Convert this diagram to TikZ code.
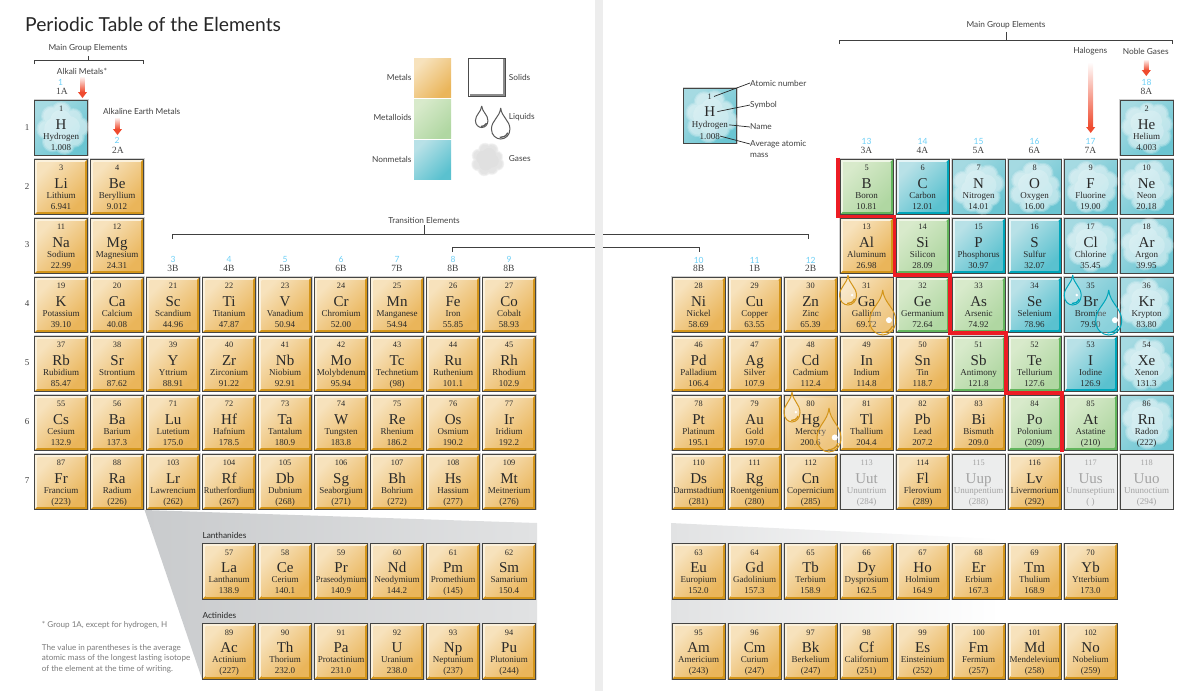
\documentclass[tikz,border=0pt]{standalone}
\usepackage{graphicx}
\usepackage{fontspec}
\setmainfont{Liberation Serif}
\newfontfamily\gillfont{Lato}
\usetikzlibrary{positioning}

\definecolor{metalA}{HTML}{F7E2BC}
\definecolor{metalB}{HTML}{EAB55A}
\definecolor{metalC}{HTML}{D3951A}
\definecolor{metalD}{HTML}{FBF1DC}
\definecolor{mloidA}{HTML}{D8EACB}
\definecolor{mloidB}{HTML}{B0D7A2}
\definecolor{mloidC}{HTML}{62B55C}
\definecolor{mloidD}{HTML}{EEF6E6}
\definecolor{nonmA}{HTML}{B8E1E7}
\definecolor{nonmB}{HTML}{5AC1CF}
\definecolor{nonmC}{HTML}{00A6BA}
\definecolor{nonmD}{HTML}{E4F4F6}
\definecolor{gasA}{HTML}{A5DAE2}
\definecolor{gasB}{HTML}{6AC5D2}
\definecolor{unkF}{HTML}{ECEDED}
\definecolor{edgeK}{HTML}{454543}
\definecolor{groupC}{HTML}{6DCFF6}
\definecolor{redL}{HTML}{ED1C24}
\definecolor{arrowR}{HTML}{EF4B2F}
\definecolor{txtK}{HTML}{404040}
\definecolor{noteK}{HTML}{7A7A7A}
\definecolor{spineG}{HTML}{EDEDED}
\definecolor{panelA}{HTML}{C9CBCD}
\definecolor{panelB}{HTML}{E1E2E3}

% one squeezed name line
\newsavebox{\namebox}
\newcommand{\fitname}[1]{\sbox{\namebox}{#1}\ifdim\wd\namebox>50.5pt\resizebox{50.5pt}{\height}{#1}\else#1\fi}

% cell faces
\newcommand{\bevelcell}[1]{%
  \fill[black!18] (-0.9,-0.9) rectangle (54.2,56.4);
  \fill[#1D] (0,0) rectangle (53.3,55.6);
  \fill[#1C] (53.3,0) -- (53.3,55.6) -- (0,55.6) -- (3,52.6) -- (50.3,52.6) -- (50.3,3) -- cycle;
  \shade[top color=#1A,bottom color=#1B,shading angle=45] (3,3) rectangle (50.3,52.6);
  \draw[edgeK,line width=.95] (0,0) rectangle (53.3,55.6);
}
\newcommand{\flatcell}[1]{%
  \fill[black!18] (-0.9,-0.9) rectangle (54.2,56.4);
  \shade[top color=#1A,bottom color=#1B,shading angle=45] (0,0) rectangle (53.3,55.6);
  \draw[edgeK,line width=.95] (0,0) rectangle (53.3,55.6);
}
\newcommand{\lobes}[1]{(0,0) circle[radius=14pt*#1] (-10,-9) circle[radius=9pt*#1] (2,-14) circle[radius=9pt*#1]
      (11,-10) circle[radius=9pt*#1] (15,2) circle[radius=8pt*#1] (12,12) circle[radius=9pt*#1]
      (2,15) circle[radius=9pt*#1] (-9,13) circle[radius=9pt*#1] (-15,3) circle[radius=9pt*#1]}
\newcommand{\puff}[5]{% x, y, turn, size, colour
  \begin{scope}[shift={(#1,#2)},rotate=#3,scale=#4]
    \fill[#5,opacity=.2] \lobes{1.12};
    \fill[#5,opacity=.25] \lobes{1};
    \fill[#5,opacity=.2] \lobes{.85};
    \fill[#5,opacity=.2] (-4,-3) circle[radius=11pt] (5,-5) circle[radius=10pt] (6,5) circle[radius=10pt] (-4,6) circle[radius=10pt];
  \end{scope}
}
\newcommand{\cellM}{\bevelcell{metal}}
\newcommand{\cellD}{\bevelcell{mloid}}
\newcommand{\cellN}{\bevelcell{nonm}}
\newcommand{\cellG}{\flatcell{gas}\puff{26.6}{27.8}{\turn}{1.06}{white}}
\newcommand{\cellL}{\flatcell{metal}}
\newcommand{\cellB}{\flatcell{gas}}
\newcommand{\cellU}{\fill[black!18] (-0.9,-0.9) rectangle (54.2,56.4);
  \fill[unkF] (0,0) rectangle (53.3,55.6);
  \draw[edgeK,line width=.95] (0,0) rectangle (53.3,55.6);
  \colorlet{elink}{black!36}}

% x, y, kind, number, symbol, name, mass
\newcommand{\elemcell}[7]{%
  \begin{scope}[shift={(#1,#2)}]
    \colorlet{elink}{black!84}
    \pgfmathsetmacro{\turn}{#4*47}
    \csname cell#3\endcsname
    \node[elnum] (#5-num) at (26.6,11.6) {#4};
    \node[elsym] (#5-sym) at (26.6,29) {#5};
    \node[elname] (#5-name) at (26.6,39) {\fitname{#6}};
    \node[elmass] (#5-mass) at (26.6,50) {#7};
  \end{scope}
}
% left edge, top edge, cells
\newcommand{\cellrow}[3]{%
  \foreach \kind/\num/\sym/\ename/\mass [count=\c from 0] in {#3} {
    \pgfmathsetmacro{\cx}{#1+56*\c}
    \elemcell{\cx}{#2}{\kind}{\num}{\sym}{\ename}{\mass}
  }
}
% x of tip, y of tip, width, height, colour, spot radius
\newcommand{\droplet}[6]{%
  \begin{scope}[shift={(#1,#2)},x=#3pt,y=-#4pt]
    \path[fill=white,fill opacity=.22,draw=#5,line width=1] (0,0) .. controls (0.05,0.3) and (0.5,0.4) .. (0.5,0.68)
      .. controls (0.5,0.88) and (0.25,1) .. (0,1) .. controls (-0.25,1) and (-0.5,0.88) .. (-0.5,0.68)
      .. controls (-0.5,0.4) and (-0.05,0.3) .. (0,0);
    \draw[#5,line width=1.3] (0.38,0.8) .. controls (0.28,0.92) and (0.12,0.95) .. (-0.05,0.95);
    \fill[white] (0.24,0.67) circle[radius=#6pt];
  \end{scope}
}
% x, top, tip
\newcommand{\redarrow}[3]{%
  \shade[top color=white,bottom color=arrowR] (#1-2.4,#2) rectangle (#1+2.4,#3-6);
  \fill[arrowR] (#1-4.6,#3-6) -- (#1+4.6,#3-6) -- (#1,#3) -- cycle;
}

\begin{document}
\begin{tikzpicture}[
    x=1pt, y=-1pt,
    elnum/.style={inner sep=0, anchor=base, text=elink, font=\fontsize{8.3}{8.3}\selectfont},
    elsym/.style={inner sep=0, anchor=base, text=elink, font=\fontsize{15}{15}\selectfont},
    elname/.style={inner sep=0, anchor=base, text=elink, font=\fontsize{9}{9}\selectfont},
    elmass/.style={inner sep=0, anchor=base, text=elink, font=\fontsize{9}{9}\selectfont},
    sanslbl/.style={inner sep=0, text=txtK, font=\gillfont\fontsize{8.3}{8.3}\selectfont},
    notelbl/.style={inner sep=0, anchor=west, text=noteK, font=\gillfont\fontsize{8.1}{8.1}\selectfont},
    grpnum/.style={inner sep=0, text=groupC, font=\gillfont\fontsize{8.5}{8.5}\selectfont},
    grpfam/.style={inner sep=0, text=txtK, font=\fontsize{9.5}{9.5}\selectfont},
    period/.style={inner sep=0, text=txtK, font=\fontsize{9}{9}\selectfont},
    bracket/.style={draw=txtK, line width=.9},
    keyline/.style={draw=black!85, line width=.7},
    swatch/.style={top color=#1A, bottom color=#1B, shading angle=45}
  ]
    \useasboundingbox (0,0) rectangle (1189,691);

    % Title
    \node[anchor=west, inner sep=0, text=black!85, font=\gillfont\fontsize{19.3}{20}\selectfont] (title) at (25,24) {Periodic Table of the Elements};

    % Panels behind the lower rows
    \shade[left color=panelA, right color=panelB] (144.5,510) -- (537,523) -- (537,679) -- (202,679) -- cycle;
    \shade[left color=panelB, right color=white] (671,523) -- (1000,539) -- (1000,679) -- (671,679) -- cycle;

    % Brackets
    \node[sanslbl] (mainleft) at (88,48) {Main Group Elements};
    \coordinate (mlA) at (34,64);
    \coordinate (mlB) at (143.7,64);
    \coordinate (mlBar) at (88,60);
    \draw[bracket] (mlA) -- ++(0,-4) -| (mlB);
    \draw[bracket, shorten <=4pt] (mainleft.south) -- (mlBar);

    \node[sanslbl] (mainright) at (1006,25) {Main Group Elements};
    \coordinate (mrA) at (839.5,44);
    \coordinate (mrB) at (1172.7,44);
    \coordinate (mrBar) at (1006,40);
    \draw[bracket] (mrA) -- ++(0,-4) -| (mrB);
    \draw[bracket, shorten <=3pt] (mainright.south) -- (mrBar);

    \node[sanslbl] (transition) at (424,220) {Transition Elements};
    \coordinate (trA) at (172,239);
    \coordinate (trB) at (808.7,239);
    \coordinate (trBar) at (424,234.7);
    \draw[bracket] (trA) -- ++(0,-4.3) -| (trB);
    \draw[bracket, shorten <=2pt] (transition.south) -- (trBar);

    \coordinate (etA) at (452,252);
    \coordinate (etB) at (699.3,252);
    \draw[bracket] (etA) -- ++(0,-4.3) -| (etB);

    % Page fold
    \fill[spineG] (595.3,0) rectangle (602.7,691);

    % Group numbers and families
    \foreach \x/\y/\g in {60.5/82/1, 117/140/2, 173/259/3, 229/259/4, 285/259/5, 341/259/6,
      397/259/7, 453/259/8, 509/259/9, 698.7/260/10, 754.7/260/11, 810.7/260/12, 866.5/141/13, 922.5/141/14,
      978.5/141/15, 1034.5/141/16, 1090.5/141/17, 1146.5/82/18} {
      \node[grpnum] (grp\g) at (\x,\y) {\g};
    }
    \foreach \x/\y/\g/\fam in {62/91/1/1A, 118/150/2/2A, 173/268.5/3/3B, 229/268.5/4/4B, 285/268.5/5/5B, 341/268.5/6/6B,
      397/268.5/7/7B, 453/268.5/8/8B, 509/268.5/9/8B, 698.7/268.5/10/8B, 754.7/268.5/11/1B, 810.7/268.5/12/2B,
      866.5/150/13/3A, 922.5/150/14/4A, 978.5/150/15/5A, 1034.5/150/16/6A, 1090.5/150/17/7A, 1146.5/91/18/8A} {
      \node[grpfam] (fam\g) at (\x,\y) {\fam};
    }

    % Period numbers
    \foreach \y [count=\p] in {128,187,245,304,363,422,481} {
      \node[period] (per\p) at (27,\y) {\p};
    }

    % Family labels and arrows
    \node[sanslbl] (alkali) at (82,71) {Alkali Metals*};
    \redarrow{82.5}{76}{98}
    \node[sanslbl] (earth) at (141.7,111) {Alkaline Earth Metals};
    \redarrow{117.5}{117}{135}
    \node[sanslbl] (halogens) at (1090.3,51) {Halogens};
    \redarrow{1090.7}{62}{133}
    \node[sanslbl] (noble) at (1145.7,51) {Noble Gases};
    \redarrow{1146.3}{59}{76}

    % Legend
    \shade[swatch=metal] (414,58) rectangle (451,97);
    \shade[swatch=mloid] (414,99) rectangle (451,138);
    \shade[swatch=nonm] (414,140) rectangle (451,179);
    \node[sanslbl, anchor=east] (lmetals) at (411.7,77) {Metals};
    \node[sanslbl, anchor=east] (lmetalloids) at (411.7,117) {Metalloids};
    \node[sanslbl, anchor=east] (lnonmetals) at (411.7,159) {Nonmetals};
    \draw[black!70, line width=1.1] (468.6,58.4) rectangle (505.4,96.4);
    \draw[black!45, line width=1.2] (504,59) -- (504,95) -- (469.5,95);
    \droplet{481.7}{106}{12.5}{21.5}{black!65}{0}
    \droplet{500.7}{108}{18.5}{31}{black!65}{0}
    \puff{487}{159}{20}{.68}{black!20}
    \node[sanslbl, anchor=west] (lsolids) at (508.7,77) {Solids};
    \node[sanslbl, anchor=west] (lliquids) at (508.7,117) {Liquids};
    \node[sanslbl, anchor=west] (lgases) at (508.7,159) {Gases};

    % Period 1 to 3
    \cellrow{34.5}{100}{G/1/H/Hydrogen/1.008}
    \cellrow{1120}{100}{G/2/He/Helium/4.003}
    \cellrow{34.5}{159}{M/3/Li/Lithium/6.941, M/4/Be/Beryllium/9.012}
    \cellrow{840}{159}{D/5/B/Boron/10.81, N/6/C/Carbon/12.01, G/7/N/Nitrogen/14.01, G/8/O/Oxygen/16.00, G/9/F/Fluorine/19.00, G/10/Ne/Neon/20.18}
    \cellrow{34.5}{218}{M/11/Na/Sodium/22.99, M/12/Mg/Magnesium/24.31}
    \cellrow{840}{218}{M/13/Al/Aluminum/26.98, D/14/Si/Silicon/28.09, N/15/P/Phosphorus/30.97, N/16/S/Sulfur/32.07, G/17/Cl/Chlorine/35.45, G/18/Ar/Argon/39.95}

    % Period 4 to 7
    \cellrow{34.5}{277}{M/19/K/Potassium/39.10, M/20/Ca/Calcium/40.08, M/21/Sc/Scandium/44.96, M/22/Ti/Titanium/47.87, M/23/V/Vanadium/50.94, M/24/Cr/Chromium/52.00, M/25/Mn/Manganese/54.94, M/26/Fe/Iron/55.85, M/27/Co/Cobalt/58.93}
    \cellrow{672}{277}{M/28/Ni/Nickel/58.69, M/29/Cu/Copper/63.55, M/30/Zn/Zinc/65.39, L/31/Ga/Gallium/69.72, D/32/Ge/Germanium/72.64, D/33/As/Arsenic/74.92, N/34/Se/Selenium/78.96, B/35/Br/Bromine/79.90, G/36/Kr/Krypton/83.80}
    \cellrow{34.5}{336}{M/37/Rb/Rubidium/85.47, M/38/Sr/Strontium/87.62, M/39/Y/Yttrium/88.91, M/40/Zr/Zirconium/91.22, M/41/Nb/Niobium/92.91, M/42/Mo/Molybdenum/95.94, M/43/Tc/Technetium/(98), M/44/Ru/Ruthenium/101.1, M/45/Rh/Rhodium/102.9}
    \cellrow{672}{336}{M/46/Pd/Palladium/106.4, M/47/Ag/Silver/107.9, M/48/Cd/Cadmium/112.4, M/49/In/Indium/114.8, M/50/Sn/Tin/118.7, D/51/Sb/Antimony/121.8, D/52/Te/Tellurium/127.6, N/53/I/Iodine/126.9, G/54/Xe/Xenon/131.3}
    \cellrow{34.5}{395}{M/55/Cs/Cesium/132.9, M/56/Ba/Barium/137.3, M/71/Lu/Lutetium/175.0, M/72/Hf/Hafnium/178.5, M/73/Ta/Tantalum/180.9, M/74/W/Tungsten/183.8, M/75/Re/Rhenium/186.2, M/76/Os/Osmium/190.2, M/77/Ir/Iridium/192.2}
    \cellrow{672}{395}{M/78/Pt/Platinum/195.1, M/79/Au/Gold/197.0, L/80/Hg/Mercury/200.6, M/81/Tl/Thallium/204.4, M/82/Pb/Lead/207.2, M/83/Bi/Bismuth/209.0, D/84/Po/Polonium/(209), D/85/At/Astatine/(210), G/86/Rn/Radon/(222)}
    \cellrow{34.5}{454}{M/87/Fr/Francium/(223), M/88/Ra/Radium/(226), M/103/Lr/Lawrencium/(262), M/104/Rf/Rutherfordium/(267), M/105/Db/Dubnium/(268), M/106/Sg/Seaborgium/(271), M/107/Bh/Bohrium/(272), M/108/Hs/Hassium/(277), M/109/Mt/Meitnerium/(276)}
    \cellrow{672}{454}{M/110/Ds/Darmstadtium/(281), M/111/Rg/Roentgenium/(280), M/112/Cn/Copernicium/(285), U/113/Uut/Ununtrium/(284), M/114/Fl/Flerovium/(289), U/115/Uup/Ununpentium/(288), M/116/Lv/Livermorium/(292), U/117/Uus/Ununseptium/( ), U/118/Uuo/Ununoctium/(294)}

    % Lanthanides and actinides
    \node[sanslbl, anchor=west, text=black!85] (lanth) at (202.3,535) {Lanthanides};
    \node[sanslbl, anchor=west, text=black!85] (actin) at (202.3,615) {Actinides};
    \cellrow{202.5}{543.5}{M/57/La/Lanthanum/138.9, M/58/Ce/Cerium/140.1, M/59/Pr/Praseodymium/140.9, M/60/Nd/Neodymium/144.2, M/61/Pm/Promethium/(145), M/62/Sm/Samarium/150.4}
    \cellrow{672}{543.5}{M/63/Eu/Europium/152.0, M/64/Gd/Gadolinium/157.3, M/65/Tb/Terbium/158.9, M/66/Dy/Dysprosium/162.5, M/67/Ho/Holmium/164.9, M/68/Er/Erbium/167.3, M/69/Tm/Thulium/168.9, M/70/Yb/Ytterbium/173.0}
    \cellrow{202.5}{623.5}{M/89/Ac/Actinium/(227), M/90/Th/Thorium/232.0, M/91/Pa/Protactinium/231.0, M/92/U/Uranium/238.0, M/93/Np/Neptunium/(237), M/94/Pu/Plutonium/(244)}
    \cellrow{672}{623.5}{M/95/Am/Americium/(243), M/96/Cm/Curium/(247), M/97/Bk/Berkelium/(247), M/98/Cf/Californium/(251), M/99/Es/Einsteinium/(252), M/100/Fm/Fermium/(257), M/101/Md/Mendelevium/(258), M/102/No/Nobelium/(259)}

    % Key cell
    \begin{scope}[shift={(683.4,88)}]
      \colorlet{elink}{black!84}
      \def\turn{30}
      \cellG
      \node[elnum] (keynum) at (26.4,11.2) {1};
      \node[elsym] (keysym) at (26.4,28.5) {H};
      \node[elname] (keyname) at (26.4,39) {Hydrogen};
      \node[elmass] (keymass) at (26.4,51) {1.008};
    \end{scope}
    \node[sanslbl, anchor=west] (atomic) at (750,83) {Atomic number};
    \node[sanslbl, anchor=west] (symbol) at (750,105) {Symbol};
    \node[sanslbl, anchor=west] (nameto) at (750,127) {Name};
    \node[sanslbl, anchor=west] (average) at (750,144) {Average atomic};
    \node[sanslbl, anchor=west] (averageb) at (750,155) {mass};
    \draw[keyline] (keynum.east) ++(2,0) -- (atomic.west);
    \draw[keyline] (keysym.east) ++(2,0) -- (symbol.west);
    \draw[keyline] (keyname.east) ++(1,0) -- (nameto.west);
    \draw[keyline] (keymass.east) -- (average.west);

    % Red border
    \draw[redL, line width=3.7] (838,157.5) |- (894.5,216.5) |- (950,274.7) |- (1006,333.3) |- (1062,393) -- (1062,452);

    % Liquids
    \droplet{848}{275}{17}{30}{metalC}{1.4}
    \droplet{882.7}{290}{26}{45}{metalC}{3}
    \droplet{1072.7}{275}{17}{30}{nonmC}{1.4}
    \droplet{1108.7}{290}{26}{45}{nonmC}{3}
    \droplet{792}{392}{16}{30}{metalC}{1.4}
    \droplet{829}{408}{24}{44}{metalC}{3}

    % Notes
    \node[notelbl] (note1) at (41.7,625) {* Group 1A, except for hydrogen, H};
    \node[notelbl] (note2) at (41.7,648) {The value in parentheses is the average};
    \node[notelbl] (note3) at (41.7,658.5) {atomic mass of the longest lasting isotope};
    \node[notelbl] (note4) at (41.7,669) {of the element at the time of writing.};
  \end{tikzpicture}
\end{document}
